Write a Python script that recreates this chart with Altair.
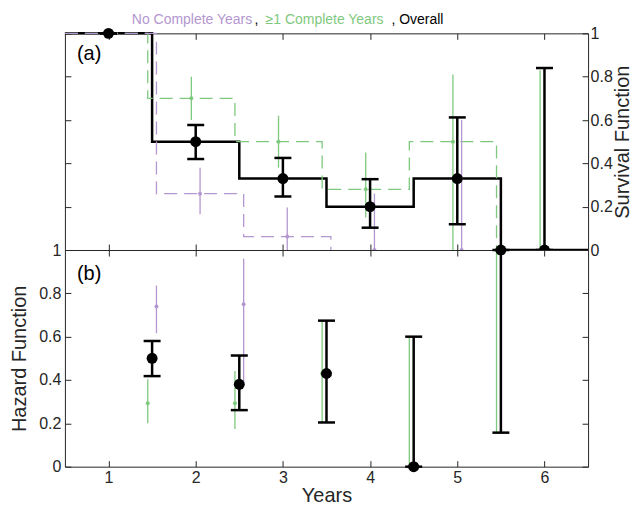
import altair as alt
import pandas as pd

FONT = "Liberation Sans"
AX = "#262626"
GREEN = "#7fc97f"
PURPLE = "#b497d0"
BLACK = "#000000"

# ---------------- Panel (a): survival function ----------------
years = [1, 2, 3, 4, 5, 6]
surv_all = [1.0, 0.50, 0.33, 0.20, 0.33, 0.0]
surv_all_lo = [1.0, 0.42, 0.247, 0.103, 0.119, 0.0]
surv_all_hi = [1.0, 0.577, 0.425, 0.327, 0.612, 0.84]

surv_ge1 = [1.0, 0.70, 0.50, 0.28, 0.50, 0.0]
surv_ge1_lo = [1.0, 0.60, 0.38, 0.15, 0.0, 0.0]
surv_ge1_hi = [1.0, 0.80, 0.62, 0.45, 0.81, 0.83]

years_none = [1, 2, 3, 4, 5]
surv_none = [1.0, 0.26, 0.062, 0.0, 0.0]
surv_none_lo = [1.0, 0.165, 0.0, 0.0, 0.0]
surv_none_hi = [1.0, 0.38, 0.196, 0.26, 0.60]

step_all_x = [0.5, 1.5, 2.5, 3.5, 4.5, 5.5, 6.5]
step_all_y = [1.0, 0.50, 0.33, 0.20, 0.33, 0.0, 0.0]
step_ge1_x = [0.5, 1.45, 2.45, 3.45, 4.45, 5.45]
step_ge1_y = [1.0, 0.70, 0.50, 0.28, 0.50, 0.0]
step_none_x = [0.5, 1.55, 2.55, 3.55]
step_none_y = [1.0, 0.26, 0.062, 0.0]

# ---------------- Panel (b): hazard function ----------------
haz_x = [1.5, 2.5, 3.5, 4.5, 5.5]
haz_all = [0.50, 0.38, 0.43, 0.0, 1.0]
haz_all_lo = [0.418, 0.261, 0.204, 0.0, 0.157]
haz_all_hi = [0.58, 0.513, 0.674, 0.60, 1.0]
haz_ge1 = [0.293, 0.293, 0.43, 0.0, 1.0]
haz_ge1_lo = [0.20, 0.174, 0.204, 0.0, 0.157]
haz_ge1_hi = [0.404, 0.442, 0.674, 0.60, 1.0]
haz_none_x = [1.5, 2.5]
haz_none = [0.739, 0.75]
haz_none_lo = [0.616, 0.386]
haz_none_hi = [0.836, 0.96]

OFF_GE1 = -0.05
OFF_NONE = 0.05

W, H = 524, 217
XTICKS = [1, 2, 3, 4, 5, 6]
YTICKS = [0, 0.2, 0.4, 0.6, 0.8, 1]


def pts(x, y, lo, hi, off=0.0):
    return pd.DataFrame({"x": [v + off for v in x], "y": y, "lo": lo, "hi": hi})


def steps(x, y):
    return pd.DataFrame({"x": x, "y": y})


xs = alt.Scale(domain=[0.5, 6.5], nice=False, zero=False)
ys = alt.Scale(domain=[0, 1], nice=False, zero=False)


def xaxis(orient, labels=False, title=None):
    kw = dict(orient=orient, values=XTICKS, tickSize=6, offset=-6, domain=False,
              labels=labels, labelPadding=3, format="d", grid=False, title=title,
              titlePadding=0)
    return alt.Axis(**kw)


def yaxis(orient, labels=False, title=None, **extra):
    kw = dict(orient=orient, values=YTICKS, tickSize=6, offset=-6, domain=False,
              labels=labels, labelPadding=4 if orient == "left" else 2,
              format="~g", grid=False, title=title, labelOverlap=False)
    kw.update(extra)
    return alt.Axis(**kw)


NOAX_X = alt.X("x:Q", scale=xs, axis=None)


def step_layer(df, color, width, dash=None, xax=None, yax=None):
    mk = dict(interpolate="step-after", color=color, strokeWidth=width)
    if dash:
        mk["strokeDash"] = dash
    return alt.Chart(df).mark_line(**mk).encode(
        x=alt.X("x:Q", scale=xs, axis=xax),
        y=alt.Y("y:Q", scale=ys, axis=yax),
    )


def rule_layer(df, color, width, xax=None, yax=None):
    return alt.Chart(df).mark_rule(color=color, strokeWidth=width).encode(
        x=alt.X("x:Q", scale=xs, axis=xax),
        y=alt.Y("lo:Q", scale=ys, axis=yax),
        y2="hi:Q",
    )


def cap_layer(df, field):
    return alt.Chart(df).mark_tick(orient="horizontal", size=17, thickness=2.5,
                                   color=BLACK, opacity=1).encode(
        x=NOAX_X, y=alt.Y(f"{field}:Q", scale=ys, axis=None))


def dot_layer(df, color, size):
    return alt.Chart(df).mark_circle(color=color, size=size, opacity=1).encode(
        x=NOAX_X, y=alt.Y("y:Q", scale=ys, axis=None))


def label_text(txt, x, y, color, size, align="left", baseline="middle"):
    return alt.Chart(pd.DataFrame({"a": [0]})).mark_text(
        text=txt, color=color, font=FONT, fontSize=size, align=align, baseline=baseline
    ).encode(x=alt.value(x), y=alt.value(y))


# ---- panel (a) ----
sa = pts(years, surv_all, surv_all_lo, surv_all_hi)
sg = pts(years, surv_ge1, surv_ge1_lo, surv_ge1_hi, OFF_GE1)
sn = pts(years_none, surv_none, surv_none_lo, surv_none_hi, OFF_NONE)

top = alt.layer(
    step_layer(steps(step_all_x, step_all_y), BLACK, 2.5,
               xax=xaxis("bottom"), yax=yaxis("left")),
    step_layer(steps(step_ge1_x, step_ge1_y), GREEN, 1.3, dash=[13, 7],
               xax=xaxis("top"),
               yax=yaxis("right", labels=True, title="Survival Function",
                         titleAngle=270, titleBaseline="top", titlePadding=0)),
    step_layer(steps(step_none_x, step_none_y), PURPLE, 1.3, dash=[13, 7]),
    rule_layer(sg, GREEN, 1.3),
    rule_layer(sn, PURPLE, 1.3),
    dot_layer(sg, GREEN, 16),
    dot_layer(sn, PURPLE, 16),
    rule_layer(sa, BLACK, 2.5),
    cap_layer(sa, "lo"),
    cap_layer(sa, "hi"),
    dot_layer(sa, BLACK, 120),
    label_text("(a)", 12, 21, BLACK, 20),
    label_text("No Complete Years", 67, -13, PURPLE, 14),
    label_text(",", 190, -13, BLACK, 14),
    label_text("\u22651 Complete Years", 201, -13, GREEN, 14),
    label_text(", Overall", 327, -13, BLACK, 14),
).resolve_axis(x="independent", y="independent").properties(width=W, height=H)

# ---- panel (b) ----
ha = pts(haz_x, haz_all, haz_all_lo, haz_all_hi)
hg = pts(haz_x, haz_ge1, haz_ge1_lo, haz_ge1_hi, OFF_GE1)
hn = pts(haz_none_x, haz_none, haz_none_lo, haz_none_hi, OFF_NONE)

bottom = alt.layer(
    rule_layer(hg, GREEN, 1.3, xax=xaxis("top"), yax=yaxis("right")),
    rule_layer(hn, PURPLE, 1.3),
    dot_layer(hg, GREEN, 16),
    dot_layer(hn, PURPLE, 16),
    rule_layer(ha, BLACK, 2.5,
               xax=xaxis("bottom", labels=True, title="Years"),
               yax=yaxis("left", labels=True, title="Hazard Function", titlePadding=9)),
    cap_layer(ha, "lo"),
    cap_layer(ha, "hi"),
    dot_layer(ha, BLACK, 120),
    label_text("(b)", 12, 24, BLACK, 20),
).resolve_axis(x="independent", y="independent").properties(width=W, height=H)

chart = alt.vconcat(top, bottom, spacing=0, bounds="flush").properties(
    padding={"left": 1, "top": 4, "right": 0, "bottom": 0}
).configure_view(
    stroke=AX, strokeWidth=1, fill="white"
).configure_axis(
    labelFont=FONT, titleFont=FONT, labelFontSize=16, titleFontSize=20,
    titleFontWeight="normal", labelColor=AX, titleColor=AX, tickColor=AX,
    tickWidth=1,
)

chart.save("out.html", embed_options={"renderer": "svg", "actions": False})
